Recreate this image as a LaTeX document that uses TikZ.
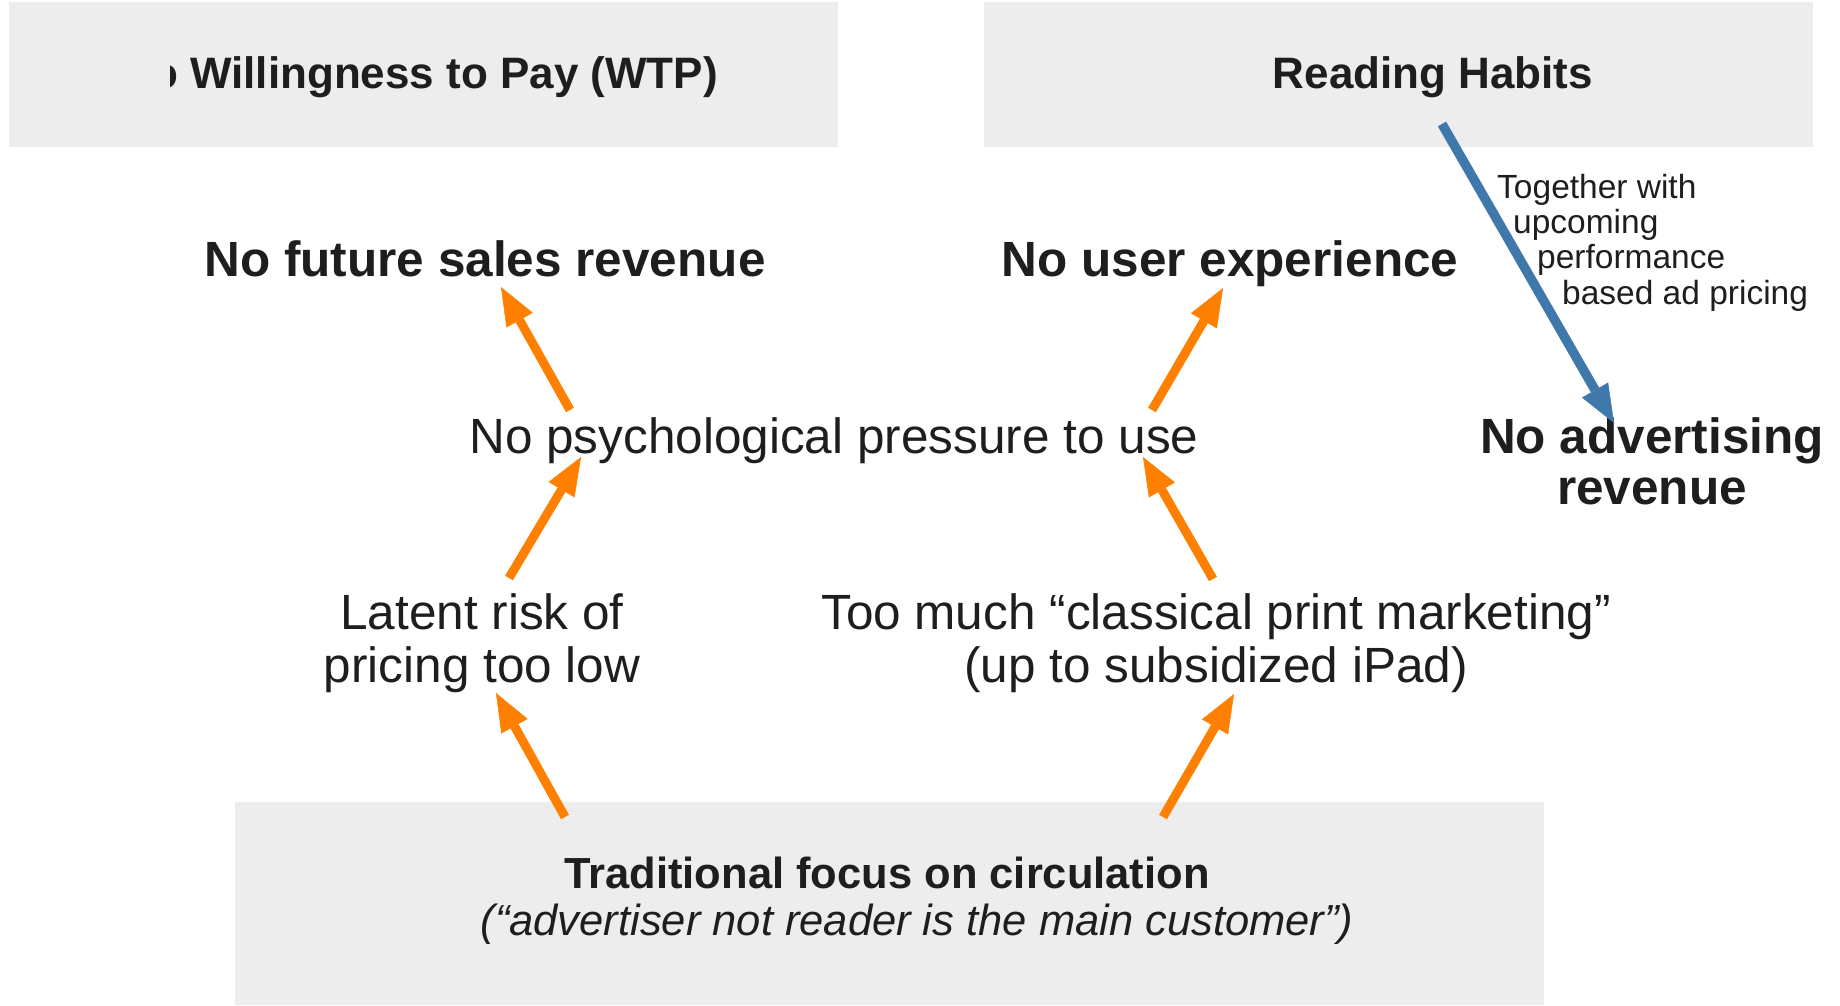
\documentclass[tikz,border=0pt]{standalone}
\usepackage{fontspec}
\setmainfont{Liberation Sans}
\usetikzlibrary{arrows.meta,calc}
\definecolor{panel}{HTML}{EDEDED}
\definecolor{ink}{HTML}{1E1E1E}
\definecolor{flowo}{HTML}{FF7F00}
\definecolor{flowb}{HTML}{3F78AB}
\begin{document}
\begin{tikzpicture}[x=1pt,y=-1pt,
  txt/.style={text=ink,inner sep=0pt,anchor=base},
  title/.style={txt,font=\fontsize{44}{46}\selectfont\bfseries},
  head/.style={txt,font=\fontsize{49.5}{51}\selectfont\bfseries,align=center},
  body/.style={txt,font=\fontsize{49.5}{53}\selectfont,align=center},
  note/.style={txt,anchor=base west,font=\fontsize{33.5}{35.3}\selectfont,align=left},
  orangeflow/.style={draw=flowo,line width=9pt,
    -{Triangle[length=38pt,width=30pt,line width=0.5pt]}},
  blueflow/.style={draw=flowb,line width=9.5pt,
    -{Triangle[length=38pt,width=30pt,line width=0.5pt]}}
]
\useasboundingbox (0,0) rectangle (1840,1005);

% grey panels
\fill[panel] (9,2) rectangle (838,147);
\fill[panel] (984,2) rectangle (1813,147);
\fill[panel] (235,802) rectangle (1544,1005);

% panel titles (multi-line nodes are placed by the baseline of their last line)
\begin{scope}
  \clip (170,0) rectangle (838,147);
  \node[title,anchor=base east] (wtp) at (718,88) {o Willingness to Pay (WTP)};
\end{scope}
\node[title] (reading) at (1433,88) {Reading Habits};

% outcomes
\node[head] (future) at (485,276) {No future sales revenue};
\node[head] (userexp) at (1230,276) {No user experience};
\node[head] (advert) at (1652,504) {No advertising\\revenue};

% causes
\node[body] (psych) at (834,453) {No psychological pressure to use};
\node[body] (latent) at (482,682) {Latent risk of\\pricing too low};
\node[body] (toomuch) at (1216,682) {Too much “classical print marketing”\\(up to subsidized iPad)};

% root cause
\node[txt,align=center,font=\fontsize{43.5}{47}\selectfont] (trad) at (887,935)
  {\textbf{Traditional focus on circulation}\\\hspace*{60pt}\textit{(“advertiser not reader is the main customer”)}};

% note beside the blue arrow
\node[note] (remark) at (1497,304)
  {Together with\\\hspace*{16pt}upcoming\\\hspace*{40pt}performance\\\hspace*{65pt}based ad pricing};

% causal arrows
\draw[orangeflow] ($(trad.base)+(-322,-118)$) -- ($(latent.base)+(14,11)$);
\draw[orangeflow] ($(trad.base)+(276,-118)$) -- ($(toomuch.base)+(18,12)$);
\draw[orangeflow] ($(latent.base)+(27,-104)$) -- ($(psych.base)+(-253,4)$);
\draw[orangeflow] ($(toomuch.base)+(-3,-103)$) -- ($(psych.base)+(309,4)$);
\draw[orangeflow] ($(psych.base)+(-264,-43)$) -- ($(future.base)+(16,11)$);
\draw[orangeflow] ($(psych.base)+(318,-43)$) -- ($(userexp.base)+(-7,12)$);
\draw[blueflow] ($(reading.base)+(9,36)$) -- ($(advert.base)+(-38,-81)$);
\end{tikzpicture}
\end{document}
